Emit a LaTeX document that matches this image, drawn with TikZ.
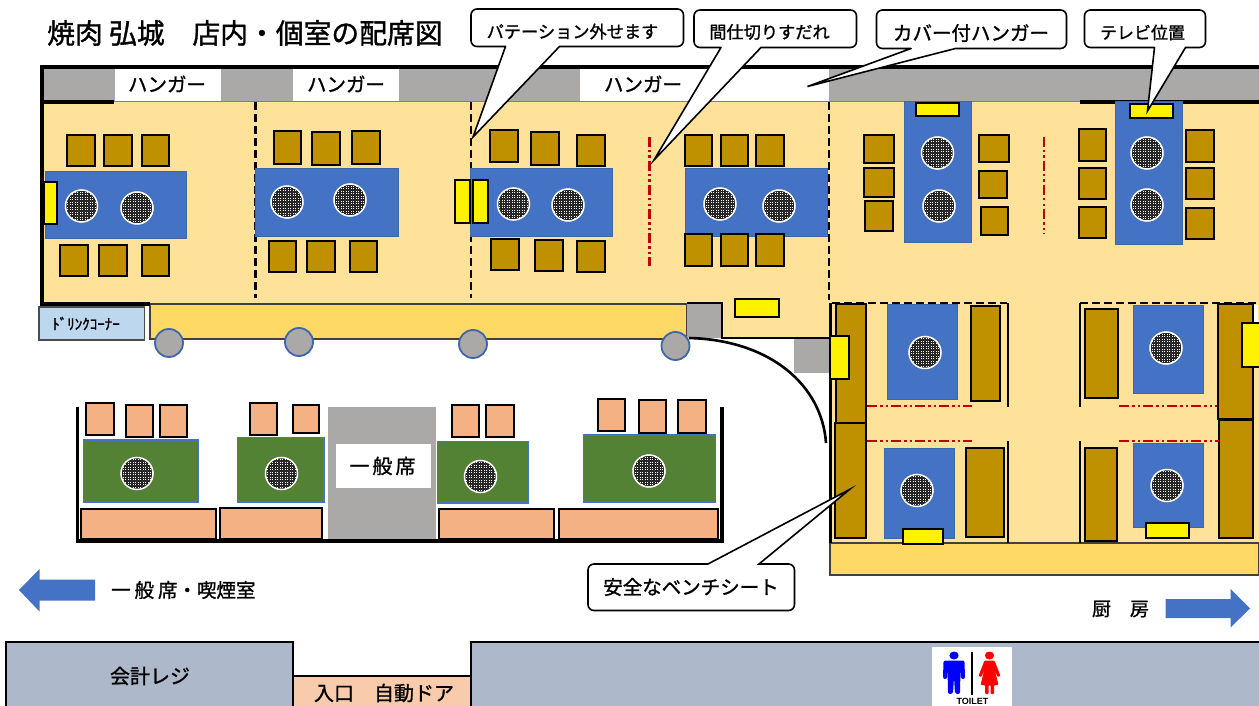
\documentclass[tikz,border=0pt]{standalone}
\usepackage{fontspec}
\setmainfont{Noto Sans CJK JP}[FakeBold=1.2]
\newfontfamily\plainsans{Liberation Sans}
\definecolor{floorc}{HTML}{FFE29A}
\definecolor{stripc}{HTML}{FFD966}
\definecolor{wallg}{HTML}{ABA8A8}
\definecolor{tblue}{HTML}{4472C4}
\definecolor{tedge}{HTML}{3F66A8}
\definecolor{brownc}{HTML}{BF9000}
\definecolor{greenc}{HTML}{548235}
\definecolor{orangec}{HTML}{F4B183}
\definecolor{slatec}{HTML}{ADB9CA}
\definecolor{peachc}{HTML}{F8CBAD}
\definecolor{drinkc}{HTML}{BDD7EE}
\definecolor{redl}{HTML}{C00000}
\tikzset{
  seatb/.style={fill=brownc,draw=black,line width=2},
  seato/.style={fill=orangec,draw=black,line width=2},
  tableb/.style={fill=tblue,draw=tedge,line width=1},
  tableg/.style={fill=greenc,draw=tblue,line width=1.2},
  yell/.style={fill=yellow,draw=black,line width=2},
  callbox/.style={fill=white,draw=black,line width=1.6,line cap=round,line join=miter},
  divider/.style={draw=black,line width=2.6,dash pattern=on 8pt off 4pt},
  redline/.style={draw=redl,line width=2.6,dash pattern=on 10pt off 3pt on 2.5pt off 3pt on 2.5pt off 3pt},
  lab/.style={inner sep=0,text=black,align=center},
  pillar/.style={fill=wallg,draw=tedge,line width=1.8}
}
\newcommand{\rct}[5]{\path[#1] (#2,#3) rectangle (#4,#5);}
\newcommand{\grill}[2]{%
  \begin{scope}
    \clip (#1,#2) ellipse [x radius=16.5pt,y radius=16.5pt];
    \fill[white] (#1-17,#2-17) rectangle (#1+17,#2+17);
    \foreach \k in {-6,...,6}{
      \draw[black!85,line width=1.25] (#1+\k*2.5,#2-17) -- (#1+\k*2.5,#2+17);
      \draw[black!85,line width=1.25] (#1-17,#2+\k*2.5) -- (#1+17,#2+\k*2.5);
    }
  \end{scope}
  \draw[white,line width=1.5] (#1,#2) ellipse [x radius=16pt,y radius=16pt];
}
\begin{document}
\begin{tikzpicture}[x=1pt,y=-1pt]
\useasboundingbox (0,0) rectangle (1259,706);
\fill[white] (0,0) rectangle (1259,706);
% floors
\fill[floorc] (44,102) rectangle (1259,303);
\fill[floorc] (722,303) rectangle (1259,338);
\fill[floorc] (830,338) rectangle (1259,543);
\fill[wallg] (44,68) rectangle (1259,102);
\fill[white] (114.5,69) rectangle (220.5,102);
\fill[white] (293,69) rectangle (399,102);
\fill[white] (580,69) rectangle (829,102);
\draw[gray,line width=1] (114,102) -- (1080,102);
% strips
\path[fill=stripc,draw=black!75,line width=1.3] (150,304) rectangle (687,339);
\path[fill=stripc,draw=black!75,line width=1.3] (830,543) rectangle (1259,575);
% walls
\draw[black,line width=4] (1259,67) -- (42,67) -- (42,304) -- (150,304);
\draw[black,line width=3.2] (42,102) -- (114,102);
\draw[black,line width=3.2] (1080,102) -- (1259,102);
% grey post
\fill[wallg] (687,304) rectangle (722,338);
\fill[wallg] (794,339) rectangle (829,373);
\draw[black,line width=2.4] (687,303) -- (722,303) -- (722,338) -- (830,338);
% dividers
\draw[divider] (255.5,102) -- (255.5,298);
\draw[divider] (471,102) -- (471,298);
\draw[divider] (829,102) -- (829,300);
\draw[redline] (649.5,137) -- (649.5,266);
\draw[redline] (1044,137) -- (1044,234);
% tables upper
\rct{tableb}{45}{172}{186.5}{238}
\rct{tableb}{255.5}{169}{398}{236}
\rct{tableb}{470.5}{169}{612}{236}
\rct{tableb}{685}{169}{827}{236}
\rct{tableb}{904}{102}{971}{242}
\rct{tableb}{1115}{102}{1182}{244}
\grill{81.5}{206}\grill{137}{208}
\grill{287}{202}\grill{350}{200}
\grill{513.5}{204}\grill{568}{205}
\grill{720}{204}\grill{779}{206}
\grill{937.5}{153}\grill{939}{206}
\grill{1147}{153}\grill{1147}{205}
% brown seats upper
\rct{seatb}{67}{135}{94.5}{166}\rct{seatb}{104}{135}{132}{166}\rct{seatb}{141.5}{135}{169}{166}
\rct{seatb}{60}{245}{88}{276}\rct{seatb}{99}{245}{126.5}{276}\rct{seatb}{141.5}{245}{169}{276}
\rct{seatb}{273.5}{131}{301}{164}\rct{seatb}{312}{132}{340}{165}\rct{seatb}{352}{131}{380}{164}
\rct{seatb}{269}{241}{296}{272}\rct{seatb}{307}{241}{335}{272}\rct{seatb}{349.5}{241}{377}{272}
\rct{seatb}{490}{130}{517.5}{162}\rct{seatb}{531}{132}{558.5}{165}\rct{seatb}{577}{135}{605}{166}
\rct{seatb}{491}{239}{519}{270}\rct{seatb}{535}{240}{562.5}{271}\rct{seatb}{577}{241}{605}{272}
\rct{seatb}{685}{135}{712}{166}\rct{seatb}{720.5}{135}{748}{166}\rct{seatb}{756}{135}{784}{166}
\rct{seatb}{685}{234}{712}{266}\rct{seatb}{720.5}{234}{748}{266}\rct{seatb}{756}{234}{784}{266}
\rct{seatb}{864}{135}{894}{163}\rct{seatb}{864}{168}{894}{197}\rct{seatb}{865}{201}{893}{231}
\rct{seatb}{979}{135}{1009}{162}\rct{seatb}{979}{171}{1007}{198}\rct{seatb}{980.5}{207}{1008}{235}
\rct{seatb}{1078.5}{129}{1106}{161}\rct{seatb}{1078.5}{168}{1106}{199}\rct{seatb}{1078.5}{207}{1106}{238}
\rct{seatb}{1186}{130}{1214}{162}\rct{seatb}{1186}{168}{1214}{199}\rct{seatb}{1186}{208}{1214}{239}
% yellow upper
\rct{yell}{43.5}{182}{57}{224}
\rct{yell}{454.5}{180}{470}{223}
\rct{yell}{473}{180}{488}{223}
\rct{yell}{915.5}{103}{958.5}{116}
\rct{yell}{1130}{104}{1173}{118}
\rct{yell}{735}{299}{778.5}{317}
% private rooms
\rct{seatb}{836}{304}{865.5}{423}
\rct{seatb}{835}{423}{865.5}{538}
\rct{tableb}{887}{304}{957}{399}
\rct{tableb}{1133.5}{305}{1203.5}{393}
\rct{tableb}{884}{448}{954}{538}
\rct{tableb}{1133.5}{443}{1203.5}{527}
\grill{925}{352.5}\grill{1166}{348}\grill{917}{490.5}\grill{1167}{485.5}
\rct{seatb}{971}{306}{999.5}{400.5}
\rct{seatb}{1085}{309}{1118}{398}
\rct{seatb}{1217.5}{304}{1252.5}{418.5}
\rct{seatb}{1219}{420}{1253}{538}
\rct{seatb}{966}{448}{1004}{537}
\rct{seatb}{1085}{448}{1116.5}{540.5}
\fill[white] (1254,305) rectangle (1258,323);
\draw[black,line width=3] (830,303) -- (830,543);
\draw[divider] (832,303) -- (1007,303);
\draw[divider] (1080,303) -- (1259,303);
\draw[black,line width=2] (1008,303) -- (1008,407);
\draw[black,line width=2] (1008,441) -- (1008,543);
\draw[black,line width=2] (1080,303) -- (1080,407);
\draw[black,line width=2] (1080,441) -- (1080,543);
\draw[redline] (867,406) -- (972,406);
\draw[redline] (867,441) -- (972,441);
\draw[redline] (1119,406) -- (1217,406);
\draw[redline] (1119,441) -- (1219,441);
\rct{yell}{830}{336}{848.5}{379}
\rct{yell}{1242}{323}{1261}{367}
\rct{yell}{903}{529}{942.5}{544}
\rct{yell}{1146}{523}{1189}{538}
% door curve
\draw[black,line width=2.6] (689,338) .. controls (770,340) and (822,385) .. (826,443);
% pillars
\path[pillar] (169,343) circle (14pt);
\path[pillar] (299,342) circle (14pt);
\path[pillar] (473,344) circle (14pt);
\path[pillar] (675.5,346) circle (14pt);
% drink corner
\path[fill=drinkc,draw=black!70,line width=1.6] (39,307) rectangle (144.5,340);
\node[lab,font=\fontsize{15}{15}\selectfont] (drink) at (86,323.5) {ﾄﾞﾘﾝｸｺｰﾅｰ};
% general seating
\fill[wallg] (328,406.5) rectangle (436,540);
\fill[white] (335.5,444) rectangle (430.5,487.5);
\draw[black,line width=3.4] (77.5,406.5) -- (77.5,541) -- (722,541) -- (722,406.5);
\rct{tableg}{83.5}{440}{198.5}{502}
\rct{tableg}{237.5}{437.5}{324}{502}
\rct{tableg}{437.5}{441.5}{528.5}{503}
\rct{tableg}{583.5}{435}{715.5}{502}
\grill{137}{473.5}\grill{281.5}{473.5}\grill{480.5}{476.5}\grill{649}{471}
\rct{seato}{86}{402.5}{113.5}{435}\rct{seato}{125.5}{405}{152.5}{436.5}\rct{seato}{160}{405}{187}{436.5}
\rct{seato}{250}{402.5}{277}{435}\rct{seato}{292.5}{405}{318.5}{432.5}
\rct{seato}{451.5}{405}{479}{436.5}\rct{seato}{486}{405}{513.5}{436.5}
\rct{seato}{597.5}{398.5}{625}{431}\rct{seato}{638.5}{400}{665.5}{432.5}\rct{seato}{678}{400}{705.5}{432.5}
\rct{seato}{80.5}{509}{216}{538.5}\rct{seato}{220}{507.5}{322}{538.5}
\rct{seato}{438.5}{509}{554}{538.5}\rct{seato}{558.5}{509}{718}{539}
% arrows
\fill[tblue] (19,590) -- (39.5,569) -- (39.5,579.5) -- (95,579.5) -- (95,600.5) -- (39.5,600.5) -- (39.5,611.5) -- cycle;
\fill[tblue] (1250,608.5) -- (1230.5,589) -- (1230.5,599) -- (1165.5,599) -- (1165.5,618) -- (1230.5,618) -- (1230.5,627.5) -- cycle;
% bottom blocks
\path[fill=slatec,draw=black,line width=2.6] (6,710) -- (6,642) -- (293,642) -- (293,710);
\path[fill=slatec,draw=black,line width=2.6] (471,710) -- (471,642) -- (1263,642) -- (1263,710);
\path[fill=peachc] (294,676) rectangle (470,710);
\draw[black,line width=2.4] (293,676) -- (471,676);
% toilet
\fill[white] (932,647) rectangle (1012,706);
\fill[blue] (954,655.5) ellipse [x radius=4.6pt,y radius=4pt];
\fill[blue,rounded corners=2pt] (943.5,660.5) -- (964.5,660.5) -- (965,679) -- (961,679) -- (960.5,667) -- (960,694) -- (955,694) -- (954,677) -- (953,694) -- (948,694) -- (947.5,667) -- (947,679) -- (943,679) -- cycle;
\draw[black,line width=1.4] (972,651.5) -- (972,695);
\fill[red] (989.5,655.5) ellipse [x radius=4.6pt,y radius=4pt];
\fill[red,rounded corners=1pt] (984.5,660.5) -- (994.5,660.5) -- (1000.5,676) -- (997.5,677) -- (994.5,669) -- (998.5,685) -- (994,685) -- (994,694) -- (990.5,694) -- (990.5,685) -- (988.5,685) -- (988.5,694) -- (985,694) -- (985,685) -- (980.5,685) -- (984.5,669) -- (981.5,677) -- (978.5,676) -- cycle;
\node[lab,font=\plainsans\bfseries\fontsize{9}{9}\selectfont] (toilet) at (972.5,701) {TOILET};
% callouts
\draw[callbox] (505.5,46.5) -- (473,137) -- (559.5,46.5) [rounded corners=6pt] -- (683.5,46.5) -- (683.5,9) -- (471,9) -- (471,46.5) -- (505.5,46.5);
\draw[callbox] (721,47.5) -- (654,160) -- (761,47.5) [rounded corners=6pt] -- (856.5,47.5) -- (856.5,10) -- (694,10) -- (694,47.5) -- (721,47.5);
\draw[callbox] (911,48.5) -- (807.5,86.5) -- (955.5,48.5) [rounded corners=6pt] -- (1066.5,48.5) -- (1066.5,10) -- (876.5,10) -- (876.5,48.5) -- (911,48.5);
\draw[callbox] (1154.5,47.5) -- (1147.5,111) -- (1185.5,47.5) [rounded corners=6pt] -- (1205.5,47.5) -- (1205.5,10) -- (1084.5,10) -- (1084.5,47.5) -- (1154.5,47.5);
\draw[callbox] (708,564) -- (849.5,489.5) -- (759,564) [rounded corners=6pt] -- (794.5,564) -- (794.5,610.5) -- (588,610.5) -- (588,564) -- (708,564);
% labels
\node[lab,anchor=west,font=\fontsize{27.8}{28}\selectfont] (title) at (47,33) {焼肉 弘城　店内・個室の配席図};
\node[lab,font=\fontsize{17.2}{17}\selectfont] (c1) at (572.5,31.5) {パテーション外せます};
\node[lab,font=\fontsize{17.2}{17}\selectfont] (c2) at (769.5,32) {間仕切りすだれ};
\node[lab,font=\fontsize{19.5}{19}\selectfont] (c3) at (971,33) {カバー付ハンガー};
\node[lab,font=\fontsize{17}{17}\selectfont] (c4) at (1142.5,32.5) {テレビ位置};
\node[lab,font=\fontsize{19.5}{19}\selectfont] (c5) at (691,587) {安全なベンチシート};
\node[lab,font=\fontsize{19.5}{19}\selectfont] (h1) at (167,84) {ハンガー};
\node[lab,font=\fontsize{19.5}{19}\selectfont] (h2) at (346,84) {ハンガー};
\node[lab,font=\fontsize{19.5}{19}\selectfont] (h3) at (643,84) {ハンガー};
\node[lab,font=\fontsize{20}{20}\selectfont] (ippan) at (382.5,466) {一\hspace{0.15em}般\hspace{0.15em}席};
\node[lab,anchor=west,font=\fontsize{19.5}{19}\selectfont] (smoke) at (111,590) {一\hspace{0.2em}般\hspace{0.2em}席・喫煙室};
\node[lab,font=\fontsize{19}{19}\selectfont] (kitchen) at (1120.5,609) {厨　房};
\node[lab,font=\fontsize{20}{20}\selectfont] (regi) at (150,676) {会計レジ};
\node[lab,font=\fontsize{20}{20}\selectfont] (door) at (384,693) {入口　自動ドア};
\end{tikzpicture}
\end{document}
